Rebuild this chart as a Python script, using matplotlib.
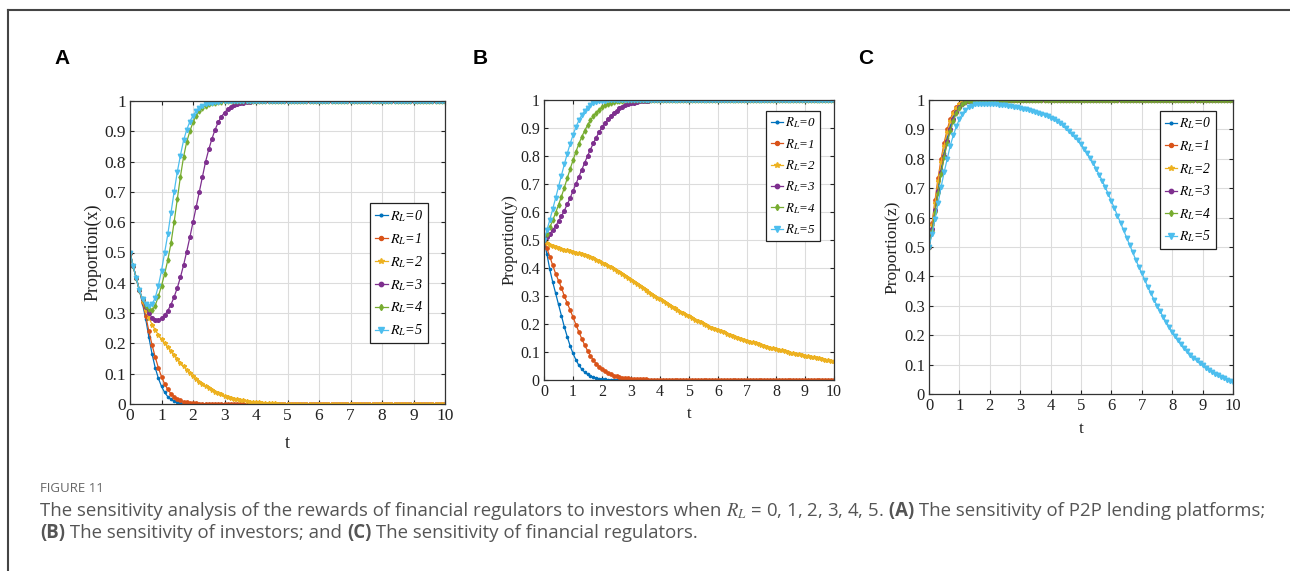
import numpy as np
from matplotlib import pyplot as plt
from matplotlib.lines import Line2D
from matplotlib.ticker import FormatStrFormatter

plt.rcParams['mathtext.fontset'] = 'stix'

N = 101
t = np.linspace(0, 10, N)


def settle(vals, last):
    # after the transient every curve sits on its steady value
    return vals + [last] * (N - len(vals))


rewards = [0, 1, 2, 3, 4, 5]

###################################################### (A) platforms, x
x_r0 = settle([0.5, 0.455, 0.415, 0.375, 0.33, 0.28, 0.22, 0.165, 0.12, 0.085,
               0.058, 0.038, 0.024, 0.015, 0.009, 0.005, 0.003, 0.002, 0.001], 0.0)
x_r1 = settle([0.5, 0.455, 0.415, 0.375, 0.335, 0.29, 0.24, 0.195, 0.155, 0.12,
               0.09, 0.066, 0.048, 0.034, 0.024, 0.017, 0.012, 0.008, 0.006, 0.004,
               0.003, 0.002, 0.001], 0.0)
x_r2 = settle([0.5, 0.455, 0.415, 0.375, 0.34, 0.31, 0.285, 0.262, 0.244, 0.228,
               0.213, 0.2, 0.188, 0.175, 0.162, 0.149, 0.136, 0.124, 0.113, 0.102,
               0.092, 0.083, 0.074, 0.066, 0.059, 0.052, 0.046, 0.041, 0.036, 0.032,
               0.028, 0.024, 0.021, 0.018, 0.016, 0.014, 0.012, 0.01, 0.008, 0.007,
               0.006, 0.005, 0.004, 0.003, 0.003, 0.002, 0.002, 0.001, 0.001, 0.001], 0.0)
x_r3 = settle([0.5, 0.455, 0.415, 0.375, 0.345, 0.32, 0.30, 0.285, 0.277, 0.277,
               0.283, 0.293, 0.308, 0.328, 0.353, 0.383, 0.418, 0.458, 0.503, 0.55,
               0.60, 0.65, 0.70, 0.75, 0.80, 0.84, 0.875, 0.905, 0.93, 0.948,
               0.962, 0.972, 0.98, 0.986, 0.99, 0.993, 0.995, 0.997, 0.998, 0.999], 1.0)
x_r4 = settle([0.5, 0.455, 0.415, 0.375, 0.345, 0.325, 0.312, 0.31, 0.325, 0.355,
               0.39, 0.43, 0.475, 0.53, 0.60, 0.675, 0.75, 0.815, 0.865, 0.90,
               0.93, 0.952, 0.967, 0.977, 0.985, 0.99, 0.993, 0.995, 0.997, 0.998,
               0.999], 1.0)
x_r5 = settle([0.5, 0.455, 0.415, 0.375, 0.345, 0.33, 0.322, 0.33, 0.35, 0.39,
               0.44, 0.50, 0.56, 0.63, 0.70, 0.765, 0.82, 0.87, 0.905, 0.932,
               0.952, 0.967, 0.978, 0.985, 0.99, 0.993, 0.995, 0.997, 0.998, 0.999], 1.0)

###################################################### (B) investors, y
y_r0 = settle([0.5, 0.45, 0.395, 0.35, 0.31, 0.27, 0.23, 0.19, 0.155, 0.122,
               0.095, 0.072, 0.053, 0.039, 0.028, 0.02, 0.014, 0.01, 0.007, 0.005,
               0.003, 0.002, 0.001], 0.0)
y_r1 = settle([0.5, 0.47, 0.44, 0.41, 0.38, 0.355, 0.33, 0.30, 0.275, 0.25,
               0.225, 0.198, 0.172, 0.148, 0.125, 0.105, 0.087, 0.071, 0.058, 0.047,
               0.038, 0.031, 0.025, 0.02, 0.016, 0.013, 0.01, 0.008, 0.007, 0.006,
               0.005, 0.004, 0.003, 0.003, 0.002, 0.002, 0.001, 0.001, 0.001], 0.0)
y_r2 = [0.5, 0.49, 0.483, 0.478, 0.474, 0.471, 0.468, 0.465, 0.463, 0.461,
        0.458, 0.455, 0.452, 0.449, 0.446, 0.442, 0.438, 0.434, 0.429, 0.424,
        0.419, 0.414, 0.408, 0.402, 0.396, 0.39, 0.384, 0.377, 0.371, 0.364,
        0.357, 0.35, 0.343, 0.336, 0.329, 0.322, 0.315, 0.308, 0.301, 0.294,
        0.288, 0.281, 0.275, 0.268, 0.262, 0.256, 0.25, 0.244, 0.238, 0.232,
        0.227, 0.221, 0.216, 0.211, 0.206, 0.201, 0.196, 0.191, 0.187, 0.182,
        0.178, 0.174, 0.17, 0.166, 0.162, 0.158, 0.154, 0.151, 0.147, 0.144,
        0.14, 0.137, 0.134, 0.131, 0.128, 0.125, 0.122, 0.119, 0.116, 0.113,
        0.111, 0.108, 0.106, 0.103, 0.101, 0.098, 0.096, 0.094, 0.092, 0.089,
        0.087, 0.085, 0.083, 0.081, 0.079, 0.077, 0.075, 0.073, 0.071, 0.069,
        0.067]
y_r3 = settle([0.5, 0.51, 0.522, 0.535, 0.55, 0.567, 0.585, 0.605, 0.627, 0.65,
               0.675, 0.70, 0.725, 0.75, 0.775, 0.80, 0.823, 0.845, 0.866, 0.885,
               0.902, 0.917, 0.931, 0.943, 0.953, 0.962, 0.97, 0.976, 0.981, 0.985,
               0.988, 0.991, 0.993, 0.995, 0.996, 0.997, 0.998, 0.999, 0.999], 1.0)
y_r4 = settle([0.5, 0.522, 0.545, 0.57, 0.597, 0.625, 0.655, 0.687, 0.72, 0.753,
               0.785, 0.815, 0.843, 0.868, 0.89, 0.91, 0.927, 0.942, 0.955, 0.965,
               0.974, 0.981, 0.986, 0.99, 0.993, 0.995, 0.997, 0.998, 0.999], 1.0)
y_r5 = settle([0.5, 0.535, 0.572, 0.61, 0.65, 0.69, 0.73, 0.77, 0.808, 0.843,
               0.875, 0.903, 0.927, 0.946, 0.961, 0.973, 0.982, 0.988, 0.992, 0.995,
               0.997, 0.998, 0.999], 1.0)

###################################################### (C) regulators, z
z_r0 = settle([0.5, 0.565, 0.63, 0.70, 0.765, 0.82, 0.87, 0.91, 0.945, 0.968,
               0.982, 0.99, 0.995, 0.998, 0.999], 1.0)
z_r1 = settle([0.5, 0.58, 0.66, 0.735, 0.80, 0.855, 0.90, 0.935, 0.96, 0.977,
               0.988, 0.994, 0.997, 0.999], 1.0)
z_r2 = settle([0.5, 0.575, 0.65, 0.725, 0.79, 0.845, 0.89, 0.928, 0.955, 0.973,
               0.985, 0.992, 0.996, 0.998, 0.999], 1.0)
z_r3 = settle([0.5, 0.56, 0.625, 0.69, 0.755, 0.81, 0.86, 0.90, 0.935, 0.96,
               0.977, 0.987, 0.993, 0.996, 0.998, 0.999], 1.0)
z_r4 = settle([0.5, 0.555, 0.62, 0.685, 0.75, 0.805, 0.855, 0.895, 0.93, 0.956,
               0.974, 0.985, 0.992, 0.996, 0.998, 0.999], 1.0)
z_r5 = [0.5, 0.545, 0.595, 0.65, 0.705, 0.755, 0.80, 0.845, 0.88, 0.91,
        0.935, 0.953, 0.966, 0.975, 0.981, 0.985, 0.987, 0.988, 0.988, 0.988,
        0.987, 0.986, 0.985, 0.984, 0.983, 0.982, 0.98, 0.979, 0.977, 0.975,
        0.973, 0.971, 0.968, 0.966, 0.963, 0.96, 0.956, 0.952, 0.948, 0.944,
        0.939, 0.934, 0.928, 0.922, 0.914, 0.905, 0.896, 0.886, 0.875, 0.863,
        0.85, 0.835, 0.82, 0.803, 0.785, 0.766, 0.746, 0.725, 0.703, 0.68,
        0.656, 0.632, 0.607, 0.582, 0.557, 0.532, 0.507, 0.482, 0.457, 0.433,
        0.41, 0.387, 0.364, 0.342, 0.321, 0.301, 0.282, 0.263, 0.245, 0.228,
        0.212, 0.197, 0.183, 0.169, 0.157, 0.145, 0.134, 0.124, 0.114, 0.105,
        0.097, 0.089, 0.082, 0.075, 0.069, 0.063, 0.058, 0.053, 0.048, 0.044,
        0.04]

colors = ['#0072BD', '#D95319', '#EDB120', '#7E2F8E', '#77AC30', '#4DBEEE']
markers = ['.', 'o', '*', 'o', 'd', 'v']
msizes = [3.2, 2.4, 3.2, 2.6, 2.6, 3.2]

fig = plt.figure(figsize=(12.9, 5.71), dpi=100)

W, H = 1290, 571
# panel boxes in pixels: left, right, top, bottom; sc scales the panel's text
panels = [
    dict(box=(130, 445, 101, 404), series=[x_r0, x_r1, x_r2, x_r3, x_r4, x_r5],
         ylabel='Proportion(x)', letter='A', lx=62, leg=(0.946, 0.663),
         ylab=-0.089, tlab=-0.102, sc=1.0),
    dict(box=(544, 834, 100, 380), series=[y_r0, y_r1, y_r2, y_r3, y_r4, y_r5],
         ylabel='Proportion(y)', letter='B', lx=480, leg=(0.952, 0.961),
         ylab=-0.090, tlab=-0.093, sc=0.92),
    dict(box=(929, 1233, 100, 394), series=[z_r0, z_r1, z_r2, z_r3, z_r4, z_r5],
         ylabel='Proportion(z)', letter='C', lx=866, leg=(0.944, 0.963),
         ylab=-0.095, tlab=-0.092, sc=0.96),
]

serif = 'Liberation Serif'

for p in panels:
    l, r, top, bot = p['box']
    sc = p['sc']
    ax = fig.add_axes([l / W, 1 - bot / H, (r - l) / W, (bot - top) / H])
    for k, ys in enumerate(p['series']):
        ax.plot(t, ys, color=colors[k], lw=0.9, marker=markers[k],
                markersize=msizes[k], label=r'$R_L$=%d' % rewards[k])
    ax.set_xlim(0, 10)
    ax.set_ylim(0, 1)
    ax.set_xticks(range(0, 11))
    ax.set_yticks(np.linspace(0, 1, 11))
    ax.yaxis.set_major_formatter(FormatStrFormatter('%g'))
    ax.grid(True, color='#dcdcdc', lw=0.8)
    ax.tick_params(direction='in', top=True, right=True, length=3,
                   labelsize=12.5 * sc, colors='#222222', pad=3)
    for lab in ax.get_xticklabels() + ax.get_yticklabels():
        lab.set_family(serif)
    for s in ax.spines.values():
        s.set_color('#333333')
        s.set_linewidth(0.9)
    ax.set_ylabel(p['ylabel'], family=serif, fontsize=13 * sc, color='#222222')
    ax.yaxis.set_label_coords(p['ylab'], 0.5)
    ax.set_xlabel('t', family=serif, fontsize=13 * sc, color='#222222')
    ax.xaxis.set_label_coords(0.5, p['tlab'])
    leg = ax.legend(loc='upper right', bbox_to_anchor=p['leg'],
                    prop={'family': serif, 'style': 'italic', 'size': 10.2 * sc},
                    handlelength=0.9, handletextpad=0.15, borderpad=0.35,
                    labelspacing=0.5, borderaxespad=0, fancybox=False,
                    framealpha=1, edgecolor='#222222', markerscale=1.2)
    leg.get_frame().set_linewidth(0.9)
    fig.text(p['lx'] / W, 1 - 58 / H, p['letter'], ha='center', va='center',
             fontsize=15, fontweight='bold', family='Liberation Sans')

# page frame lines
fig.add_artist(Line2D([8 / W, 1], [1 - 9.5 / H, 1 - 9.5 / H], color='#444444', lw=1.5))
fig.add_artist(Line2D([8 / W, 8 / W], [0, 1 - 9.5 / H], color='#444444', lw=1.5))

# caption, pieces laid out one after another so bold parts fit inline
cap_font = 'Open Sans'
cap_color = '#555555'
fig.text(40 / W, 1 - 488 / H, 'FIGURE 11', ha='left', va='center',
         fontsize=9.5, family=cap_font, color='#666666')

renderer = fig.canvas.get_renderer()


def caption_line(pieces, y):
    x = 40 / W
    for txt, bold in pieces:
        tx = fig.text(x, 1 - y / H, txt, ha='left', va='center', fontsize=13.4,
                      family=cap_font, color=cap_color,
                      fontweight='bold' if bold else 'normal')
        bb = tx.get_window_extent(renderer=renderer)
        x = bb.x1 / W


caption_line([('The sensitivity analysis of the rewards of financial regulators to investors when ', False),
              (r'$R_L$ = 0, 1, 2, 3, 4, 5.', False),
              (' (A)', True),
              (' The sensitivity of P2P lending platforms;', False)], 511)
caption_line([('(B)', True),
              (' The sensitivity of investors; and ', False),
              ('(C)', True),
              (' The sensitivity of financial regulators.', False)], 533)

fig.savefig('out.png', dpi=100)
